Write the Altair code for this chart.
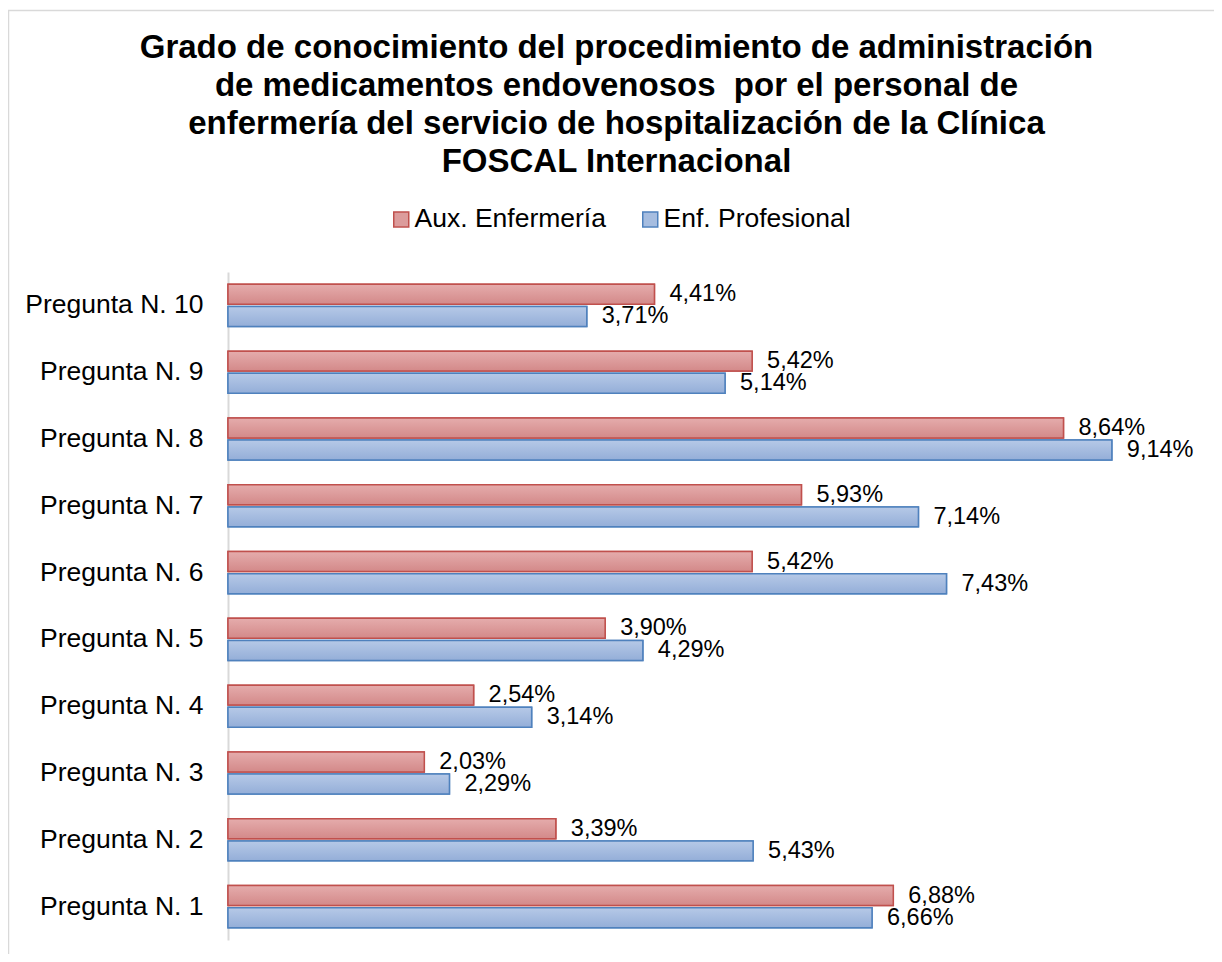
import altair as alt
import pandas as pd

preguntas = [f"Pregunta N. {i}" for i in range(1, 11)]
series = ["Aux. Enfermería", "Enf. Profesional"]
aux = [6.88, 3.39, 2.03, 2.54, 3.90, 5.42, 5.93, 8.64, 5.42, 4.41]
enf = [6.66, 5.43, 2.29, 3.14, 4.29, 7.43, 7.14, 9.14, 5.14, 3.71]

rows = []
for p, a, e in zip(preguntas, aux, enf):
    rows.append({"pregunta": p, "serie": series[0], "valor": a})
    rows.append({"pregunta": p, "serie": series[1], "valor": e})
df = pd.DataFrame(rows)
df["label"] = df["valor"].map(lambda v: f"{v:.2f}".replace(".", ",") + "%")

order = list(reversed(preguntas))
FONT = "Liberation Sans"
border_colors = ["#c0504d", "#4f81bd"]
fill_colors = ["#dc9c9c", "#a6bde0"]
grads = [
    alt.LinearGradient(gradient="linear", x1=0, x2=0, y1=0, y2=1,
                       stops=[alt.GradientStop(color="#e5acac", offset=0),
                              alt.GradientStop(color="#d38989", offset=1)]),
    alt.LinearGradient(gradient="linear", x1=0, x2=0, y1=0, y2=1,
                       stops=[alt.GradientStop(color="#b6c9e7", offset=0),
                              alt.GradientStop(color="#94aed8", offset=1)]),
]

x_enc = alt.X("valor:Q", scale=alt.Scale(domain=[0, 10], nice=False, zero=True), axis=None)
y_enc = alt.Y("pregunta:N", sort=order,
              scale=alt.Scale(paddingInner=0.37, paddingOuter=0.185),
              axis=alt.Axis(title=None, ticks=False, labelFontSize=26.5, labelFont=FONT,
                            labelColor="black", labelPadding=25, domainColor="#d9d9d9",
                            domainWidth=2, grid=False, labelLimit=300))
yo_enc = alt.YOffset("serie:N", sort=series,
                     scale=alt.Scale(domain=series, paddingInner=0.1))

legend = alt.Legend(title=None, orient="none", legendX=160, legendY=-66,
                    direction="horizontal", labelFontSize=26.5, labelFont=FONT,
                    labelColor="black", symbolType="square", symbolSize=225,
                    symbolStrokeWidth=1.5, labelOffset=0, columnPadding=31,
                    labelLimit=400)

base = alt.Chart(df).mark_bar(strokeWidth=1.5).encode(
    x=x_enc, y=y_enc, yOffset=yo_enc,
    fill=alt.Fill("serie:N", scale=alt.Scale(domain=series, range=fill_colors), legend=legend),
    stroke=alt.Stroke("serie:N", scale=alt.Scale(domain=series, range=border_colors), legend=legend),
)

overlays = []
for s, g, c in zip(series, grads, border_colors):
    overlays.append(
        alt.Chart(df).transform_filter(alt.datum.serie == s)
        .mark_bar(fill=g, stroke=c, strokeWidth=1.5)
        .encode(x=x_enc, y=y_enc, yOffset=yo_enc)
    )

labels = alt.Chart(df).mark_text(align="left", baseline="middle", dx=15, fontSize=23.5,
                                 font=FONT, color="black").encode(
    x=x_enc, y=y_enc, yOffset=yo_enc, text="label:N")

frame_df = pd.DataFrame({"k": [0]})
frame_left = alt.Chart(frame_df).mark_rule(color="#d9d9d9", strokeWidth=1.5).encode(
    x=alt.value(-219.5), y=alt.value(-262), y2=alt.value(720))
frame_top = alt.Chart(frame_df).mark_rule(color="#d9d9d9", strokeWidth=1.5).encode(
    x=alt.value(-220), x2=alt.value(1000), y=alt.value(-261.5))

chart = alt.layer(frame_left, frame_top, base, *overlays, labels).properties(
    width=967, height=668,
    background="white",
    autosize=alt.AutoSizeParams(type="none"),
    padding={"left": 220, "top": 264, "right": 19, "bottom": 14},
    title=alt.TitleParams(
        text=["Grado de conocimiento del procedimiento de administración",
              "de medicamentos endovenosos\u00a0 por el personal de",
              "enfermería del servicio de hospitalización de la Clínica",
              "FOSCAL Internacional"],
        font=FONT, fontSize=33, fontWeight="bold", lineHeight=38, color="black",
        anchor="middle", dx=-95, offset=-170),
).configure_view(stroke=None)

chart.save("out.html", embed_options={"renderer": "svg", "actions": False})
